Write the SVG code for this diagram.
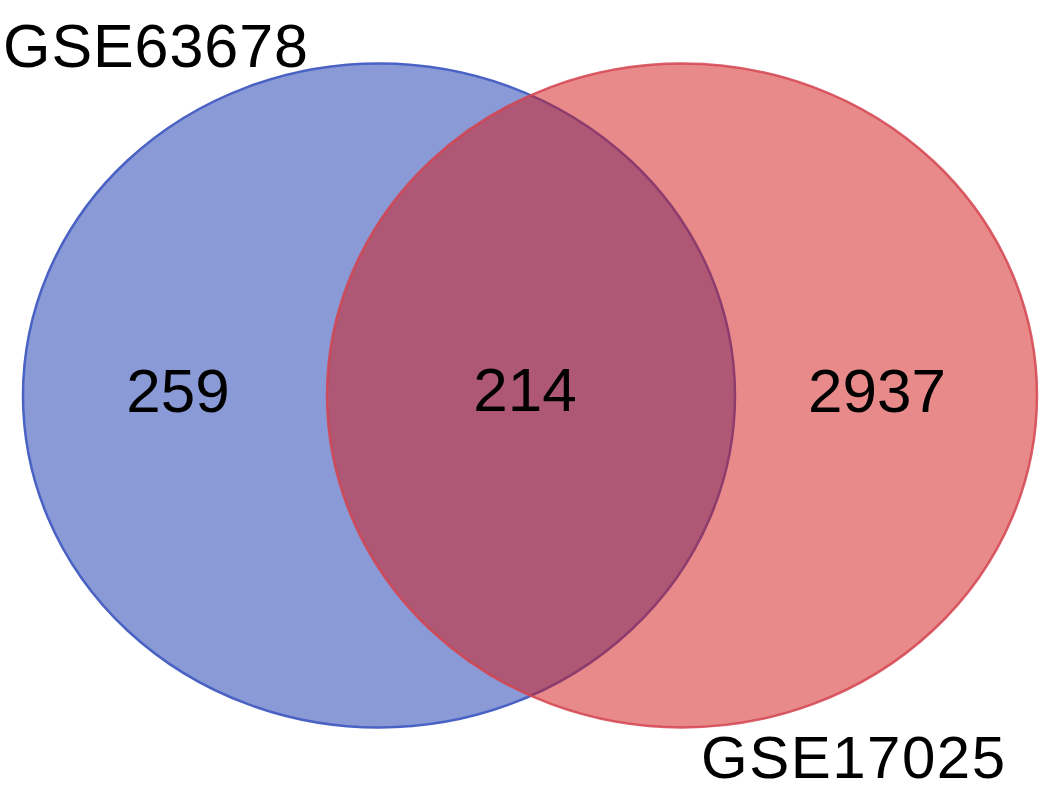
<svg xmlns="http://www.w3.org/2000/svg" width="1063" height="801" viewBox="0 0 1063 801">
<style>
.lbl{font-family:"Liberation Sans",Arial,sans-serif;fill:#000}
.cnt{font-family:"Liberation Sans",Arial,sans-serif;fill:#000;font-size:62px;text-anchor:middle}
</style>
<rect width="1063" height="801" fill="#fff"/>
<g id="set-GSE63678">
<ellipse cx="379" cy="395.5" rx="356" ry="332" fill="#1535ad" fill-opacity="0.5" stroke="#4a62c4" stroke-width="2.5"/>
</g>
<g id="set-GSE17025">
<ellipse cx="682" cy="395.5" rx="355" ry="332" fill="#d11515" fill-opacity="0.5" stroke="#d44450" stroke-width="2.5" stroke-opacity="0.85"/>
</g>
<g id="labels">
<text class="lbl" x="3" y="67" font-size="61" textLength="305" lengthAdjust="spacing">GSE63678</text>
<text class="lbl" x="701" y="778" font-size="60" textLength="304" lengthAdjust="spacing">GSE17025</text>
<text class="cnt" x="178" y="412">259</text>
<text class="cnt" x="525" y="411">214</text>
<text class="cnt" x="877" y="412">2937</text>
</g>
</svg>
